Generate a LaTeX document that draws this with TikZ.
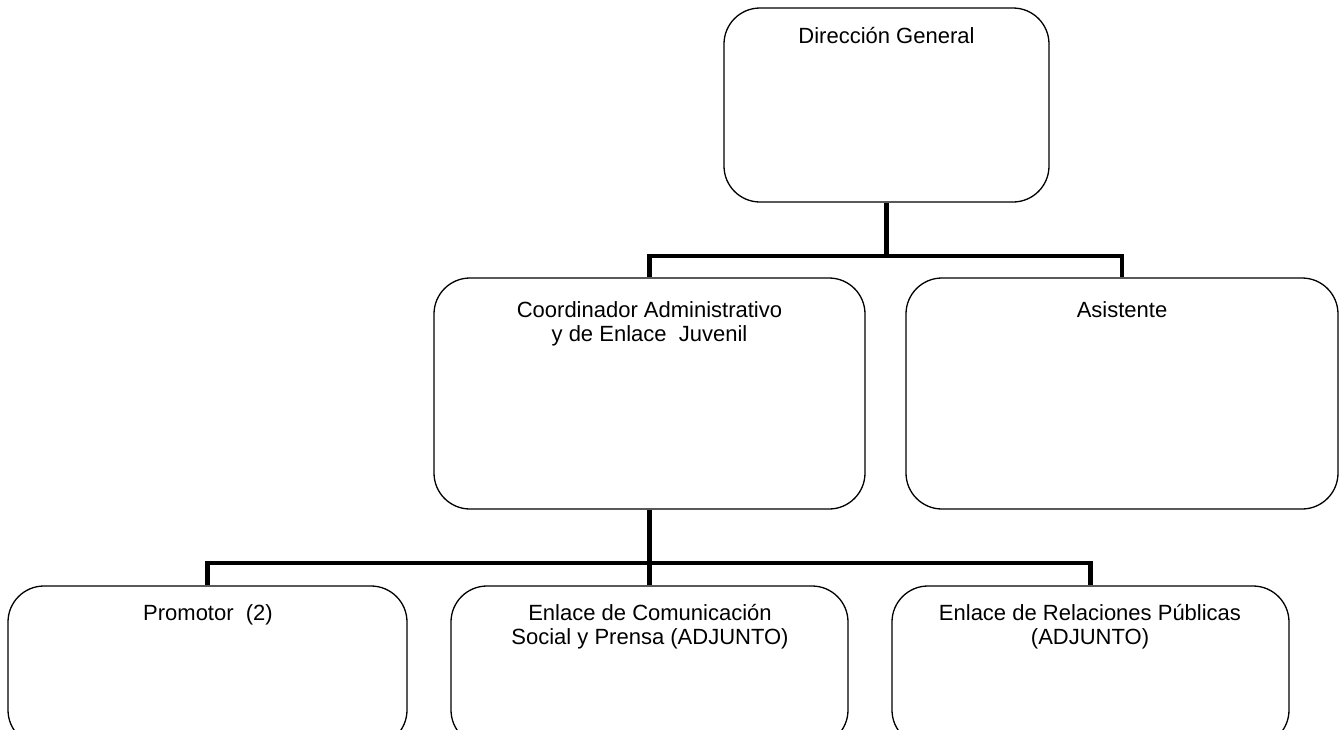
\documentclass[tikz,border=0pt]{standalone}
\usepackage{fontspec}
\setmainfont{Liberation Sans}
\begin{document}
\begin{tikzpicture}[x=1pt,y=-1pt,
  box/.style={draw, line width=1.3pt, rounded corners=36pt, rectangle, inner sep=0pt},
  txt/.style={inner sep=0pt, align=center, font=\fontsize{22}{24.5}\selectfont},
  conn/.style={line width=4.5pt, line join=miter, line cap=butt}]
\useasboundingbox (0,0) rectangle (1342,729);
\clip (0,0) rectangle (1342,729);
% boxes
\node[box, minimum width=325pt, minimum height=194pt] (dg) at (886.5,105) {};
\node[box, minimum width=431pt, minimum height=231pt] (coord) at (649.5,393.5) {};
\node[box, minimum width=432pt, minimum height=231pt] (asis) at (1122,393.5) {};
\node[box, minimum width=399pt, minimum height=160pt] (prom) at (207.5,666) {};
\node[box, minimum width=397pt, minimum height=160pt] (ecom) at (649.5,666) {};
\node[box, minimum width=397pt, minimum height=160pt] (erp) at (1090.5,666) {};
% texts
\node[txt, anchor=base] (tdg) at (886.5,43) {Dirección General};
\node[txt, anchor=north] (tcoord) at (649.5,301) {Coordinador Administrativo\\y de Enlace\ \ Juvenil};
\node[txt, anchor=base] (tasis) at (1122,317) {Asistente};
\node[txt, anchor=base] (tprom) at (208,620) {Promotor\ \ (2)};
\node[txt, anchor=north] (tecom) at (650,604) {Enlace de Comunicación\\Social y Prensa (ADJUNTO)};
\node[txt, anchor=north] (terp) at (1090,604) {Enlace de Relaciones Públicas\\(ADJUNTO)};
% connectors
\coordinate (h1) at (886.5,256);
\coordinate (h2) at (649.5,563);
\draw[conn] (dg.south) -- (h1);
\draw[conn] (coord.north) |- (h1) -| (asis.north);
\draw[conn] (coord.south) -- (ecom.north);
\draw[conn] (prom.north) |- (h2) -| (erp.north);
\end{tikzpicture}
\end{document}
